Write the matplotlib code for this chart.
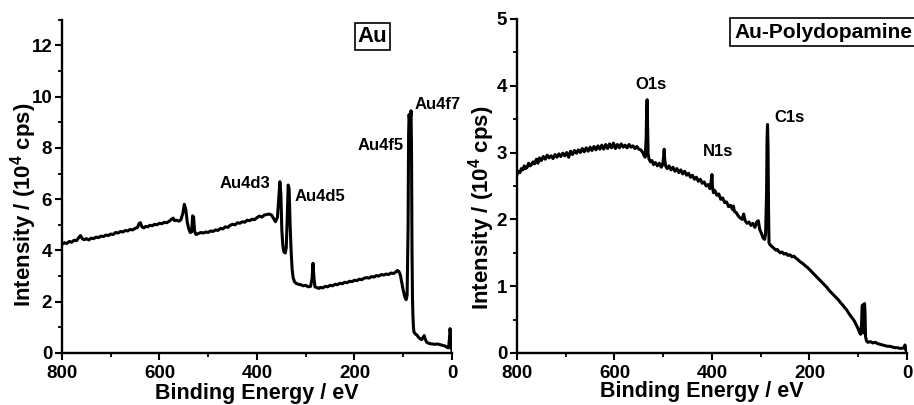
import numpy as np
import matplotlib
matplotlib.use("Agg")
import matplotlib.pyplot as plt
from matplotlib.ticker import MultipleLocator

plt.rcParams['font.family'] = ['Liberation Sans', 'DejaVu Sans']
plt.rcParams['font.weight'] = 'bold'
plt.rcParams['mathtext.fontset'] = 'custom'
plt.rcParams['mathtext.bf'] = 'Liberation Sans:bold'

# Au survey spectrum (binding energy eV, intensity 10^4 cps)
au_energy = [800, 795, 790, 785, 780, 775, 770, 765, 762, 758, 754, 750, 745, 740, 735,
             730, 725, 720, 715, 710, 705, 700, 695, 690, 685, 680, 675, 670, 665, 660,
             655, 650, 645, 642, 639, 636, 632, 628, 624, 620, 615, 610, 605, 600, 595,
             590, 585, 580, 575, 572, 569, 565, 560, 556, 552, 549, 546, 543, 540, 537,
             534, 532, 530, 528, 525, 520, 515, 510, 505, 500, 495, 490, 485, 480, 475,
             470, 465, 460, 455, 450, 445, 440, 435, 430, 425, 420, 415, 410, 405, 400,
             395, 390, 385, 380, 375, 370, 366, 362, 358, 355, 353, 351, 349, 347, 345,
             342, 340, 338, 336, 334, 332, 330, 328, 326, 323, 320, 315, 310, 305, 300,
             295, 290, 287, 285, 283, 281, 277, 273, 270, 265, 260, 255, 250, 245, 240,
             235, 230, 225, 220, 215, 210, 205, 200, 195, 190, 185, 180, 175, 170, 165,
             160, 155, 150, 145, 140, 135, 130, 125, 120, 115, 112, 109, 106, 103, 100,
             97, 94, 92, 90, 89, 88, 87, 86, 85, 84, 83, 82, 81, 80, 79,
             78, 75, 72, 68, 65, 62, 59, 57, 55, 52, 48, 44, 40, 35, 30,
             25, 20, 15, 10, 7, 5, 4, 3, 2, 0]
au_counts = [4.24, 4.30, 4.27, 4.35, 4.32, 4.40, 4.38, 4.52, 4.58, 4.45, 4.42, 4.46, 4.41, 4.48, 4.46,
             4.52, 4.50, 4.56, 4.54, 4.60, 4.58, 4.64, 4.62, 4.70, 4.68, 4.74, 4.72, 4.78, 4.76, 4.82,
             4.80, 4.86, 4.90, 5.05, 5.08, 4.92, 4.88, 4.94, 4.92, 4.98, 4.96, 5.02, 5.00, 5.06, 5.04,
             5.10, 5.08, 5.14, 5.22, 5.26, 5.16, 5.18, 5.14, 5.20, 5.45, 5.80, 5.60, 5.10, 4.85, 4.70,
             4.72, 5.35, 5.30, 4.75, 4.62, 4.66, 4.70, 4.68, 4.72, 4.70, 4.76, 4.74, 4.80, 4.78, 4.86,
             4.84, 4.92, 4.90, 4.98, 5.02, 5.00, 5.08, 5.06, 5.12, 5.10, 5.18, 5.16, 5.22, 5.20, 5.28,
             5.34, 5.30, 5.38, 5.40, 5.42, 5.38, 5.25, 5.12, 5.30, 6.10, 6.68, 6.20, 4.80, 4.20, 3.95,
             3.90, 4.10, 5.20, 6.55, 6.40, 5.00, 4.00, 3.30, 2.95, 2.78, 2.72, 2.68, 2.66, 2.62, 2.64,
             2.58, 2.60, 2.90, 3.50, 2.90, 2.58, 2.55, 2.52, 2.56, 2.54, 2.60, 2.58, 2.64, 2.62, 2.68,
             2.66, 2.72, 2.70, 2.76, 2.74, 2.80, 2.78, 2.84, 2.82, 2.88, 2.86, 2.92, 2.94, 2.92, 2.98,
             2.96, 3.02, 3.00, 3.06, 3.04, 3.08, 3.06, 3.12, 3.10, 3.16, 3.22, 3.18, 3.05, 2.75, 2.45,
             2.20, 2.08, 2.25, 5.00, 8.50, 9.30, 9.10, 8.90, 9.20, 9.45, 8.00, 4.00, 2.10, 1.40, 1.00,
             0.82, 0.74, 0.70, 0.60, 0.55, 0.52, 0.62, 0.68, 0.55, 0.42, 0.38, 0.36, 0.35, 0.34, 0.35,
             0.33, 0.30, 0.28, 0.22, 0.20, 0.60, 0.95, 0.80, 0.30, 0.08]

# Au-Polydopamine survey spectrum
pda_energy = [800, 797, 794, 791, 788, 785, 782, 779, 776, 773, 770, 767, 764, 760, 757,
              754, 750, 746, 742, 738, 734, 730, 726, 722, 718, 714, 710, 706, 702, 698,
              694, 690, 686, 682, 678, 674, 670, 666, 662, 658, 654, 650, 646, 642, 638,
              634, 630, 626, 622, 618, 614, 610, 606, 602, 598, 594, 590, 586, 582, 578,
              574, 570, 566, 562, 558, 554, 550, 546, 542, 539, 537, 535, 534, 533, 532,
              531, 529, 526, 523, 520, 516, 512, 508, 504, 501, 499, 498, 497, 495, 492,
              488, 484, 480, 476, 472, 468, 464, 460, 456, 452, 448, 444, 440, 436, 432,
              428, 424, 420, 416, 412, 408, 404, 402, 400, 399, 397, 394, 390, 386, 382,
              378, 374, 370, 366, 362, 358, 356, 354, 350, 346, 342, 338, 335, 332, 328,
              324, 320, 316, 312, 308, 305, 302, 298, 295, 292, 290, 288, 287, 286, 285,
              284, 283, 281, 278, 275, 272, 269, 266, 263, 260, 256, 252, 248, 244, 240,
              236, 232, 228, 224, 220, 216, 212, 208, 204, 200, 196, 192, 188, 184, 180,
              176, 172, 168, 164, 160, 156, 152, 148, 144, 140, 136, 132, 128, 124, 120,
              116, 112, 108, 104, 100, 97, 95, 93, 92, 91, 90, 89, 88, 87, 86,
              85, 83, 80, 75, 70, 65, 60, 55, 50, 45, 40, 35, 30, 25, 20,
              15, 10, 6, 4, 3, 1, 0]
pda_counts = [2.67, 2.72, 2.70, 2.76, 2.74, 2.80, 2.76, 2.78, 2.84, 2.80, 2.82, 2.86, 2.83, 2.90, 2.84,
              2.92, 2.88, 2.94, 2.90, 2.96, 2.92, 2.95, 2.91, 2.97, 2.93, 2.98, 2.94, 2.99, 2.95, 3.00,
              2.93, 3.02, 2.97, 3.03, 2.99, 3.04, 3.00, 3.06, 3.01, 3.07, 3.02, 3.08, 3.03, 3.09, 3.04,
              3.10, 3.05, 3.11, 3.05, 3.12, 3.06, 3.13, 3.07, 3.14, 3.06, 3.12, 3.07, 3.13, 3.08, 3.11,
              3.07, 3.12, 3.08, 3.10, 3.06, 3.09, 3.05, 3.04, 3.00, 2.95, 2.93, 3.20, 3.60, 3.79, 3.40,
              2.98, 2.90, 2.86, 2.88, 2.82, 2.85, 2.80, 2.84, 2.78, 2.82, 2.95, 3.05, 2.90, 2.80, 2.76,
              2.80, 2.74, 2.78, 2.72, 2.76, 2.70, 2.74, 2.68, 2.72, 2.66, 2.69, 2.63, 2.66, 2.60, 2.63,
              2.57, 2.60, 2.54, 2.56, 2.50, 2.52, 2.46, 2.55, 2.67, 2.50, 2.40, 2.43, 2.36, 2.38, 2.30,
              2.32, 2.25, 2.26, 2.19, 2.21, 2.15, 2.20, 2.12, 2.10, 2.05, 2.02, 2.00, 2.08, 1.98, 1.94,
              1.96, 1.91, 1.94, 1.88, 1.96, 1.98, 1.85, 1.78, 1.72, 1.70, 1.78, 2.40, 3.20, 3.42, 3.10,
              2.20, 1.65, 1.62, 1.60, 1.58, 1.56, 1.54, 1.55, 1.52, 1.50, 1.51, 1.48, 1.49, 1.46, 1.47,
              1.44, 1.45, 1.42, 1.40, 1.37, 1.35, 1.33, 1.30, 1.28, 1.25, 1.22, 1.19, 1.16, 1.13, 1.10,
              1.07, 1.04, 1.01, 0.98, 0.94, 0.91, 0.88, 0.85, 0.82, 0.79, 0.75, 0.72, 0.68, 0.65, 0.60,
              0.56, 0.52, 0.48, 0.42, 0.36, 0.30, 0.28, 0.45, 0.70, 0.72, 0.40, 0.30, 0.55, 0.74, 0.60,
              0.25, 0.18, 0.16, 0.17, 0.15, 0.16, 0.14, 0.13, 0.12, 0.11, 0.10, 0.10, 0.09, 0.08, 0.08,
              0.07, 0.07, 0.08, 0.12, 0.06, 0.02, 0.00]

au_peaks = ["Au4d3", "Au4d5", "Au4f5", "Au4f7"]
au_peak_pos = [(373, 6.6, 'right'), (322, 6.1, 'left'), (98, 8.1, 'right'), (76, 9.7, 'left')]
pda_peaks = ["O1s", "N1s", "C1s"]
pda_peak_pos = [(525, 4.02, 'center'), (387, 3.02, 'center'), (240, 3.52, 'center')]

fig = plt.figure(figsize=(9.14, 4.05), dpi=100)
ax1 = fig.add_axes([0.0678, 0.1284, 0.4267, 0.823])
ax2 = fig.add_axes([0.5656, 0.1284, 0.4267, 0.825])


def style_axis(ax, ymax, ymajor, yminor, xlab_pos, ylab_pos):
    ax.set_xlim(800, 0)
    ax.set_ylim(0, ymax)
    ax.spines['top'].set_visible(False)
    ax.spines['right'].set_visible(False)
    ax.spines['left'].set_linewidth(1.7)
    ax.spines['bottom'].set_linewidth(1.7)
    ax.xaxis.set_major_locator(MultipleLocator(200))
    ax.xaxis.set_minor_locator(MultipleLocator(100))
    ax.yaxis.set_major_locator(MultipleLocator(ymajor))
    ax.yaxis.set_minor_locator(MultipleLocator(yminor))
    ax.tick_params(which='major', direction='out', length=5, width=1.5, labelsize=13.5, pad=2)
    ax.tick_params(axis='x', which='major', pad=4)
    ax.tick_params(which='minor', direction='out', length=3, width=1.3)
    for lab in ax.get_xticklabels() + ax.get_yticklabels():
        lab.set_fontweight('bold')
    ax.set_xlabel('Binding Energy / eV', fontsize=15.5, fontweight='bold')
    ax.set_ylabel(r'Intensity / (10$^{\mathbf{4}}$ cps)', fontsize=16, fontweight='bold')
    ax.xaxis.set_label_coords(*xlab_pos)
    ax.yaxis.set_label_coords(*ylab_pos)


ax1.plot(au_energy, au_counts, color='black', lw=2.2)
style_axis(ax1, 13, 2, 1, (0.5, -0.09), (-0.06, 0.445))
for name, (x, y, ha) in zip(au_peaks, au_peak_pos):
    ax1.text(x, y, name, fontsize=12, fontweight='bold', ha=ha, va='center', clip_on=False)
ax1.text(163, 12.35, 'Au', fontsize=16, fontweight='bold', ha='center', va='center',
         bbox=dict(boxstyle='square,pad=0.12', fc='white', ec='black', lw=1.2))

ax2.plot(pda_energy, pda_counts, color='black', lw=2.2)
style_axis(ax2, 5, 1, 0.5, (0.474, -0.085), (-0.052, 0.434))
for name, (x, y, ha) in zip(pda_peaks, pda_peak_pos):
    ax2.text(x, y, name, fontsize=12, fontweight='bold', ha=ha, va='center', clip_on=False)
ax2.text(172, 4.80, 'Au-Polydopamine', fontsize=15, fontweight='bold', ha='center', va='center',
         bbox=dict(boxstyle='square,pad=0.22', fc='white', ec='black', lw=1.2))

fig.savefig('out.png', dpi=100)
